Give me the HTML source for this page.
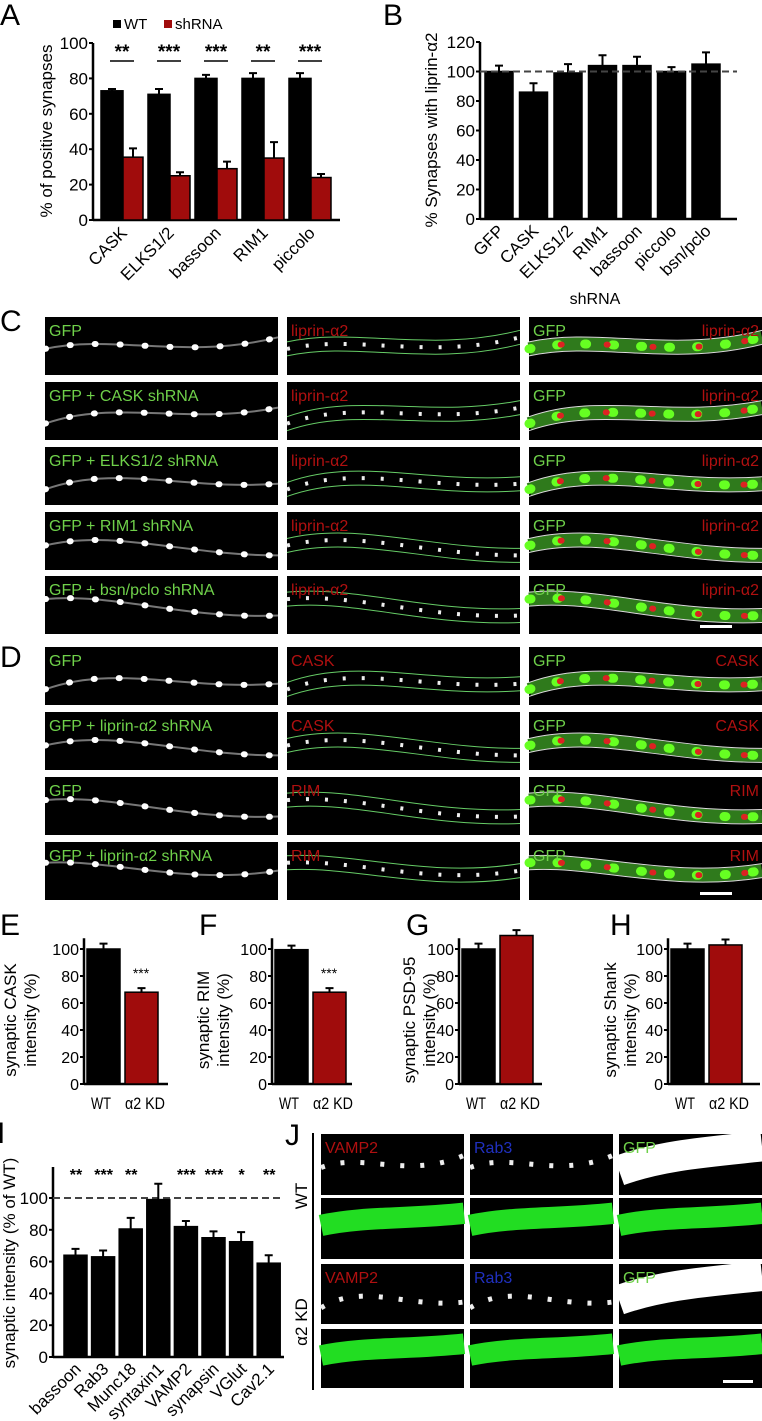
<!DOCTYPE html>
<html><head><meta charset="utf-8"><style>
html,body{margin:0;padding:0;background:#fff;}
svg{display:block;font-family:"Liberation Sans",Arial,sans-serif;}
</style></head><body>
<svg id="fig" width="762" height="1421" viewBox="0 0 762 1421" xmlns="http://www.w3.org/2000/svg">
<g font-size="30" fill="#000">
<text x="0" y="25">A</text>
<text x="383" y="25">B</text>
<text x="0" y="331">C</text>
<text x="0" y="667">D</text>
<text x="0" y="935">E</text>
<text x="199" y="935">F</text>
<text x="406" y="935">G</text>
<text x="610" y="935">H</text>
<text x="-3" y="1143">I</text>
<text x="285" y="1145">J</text>
</g>
<text x="595" y="304" font-size="16" text-anchor="middle">shRNA</text>
<g id="charts"></g>
<g id="images"></g>
</svg>
<script>
// Panel A data
const aCats = ["CASK","ELKS1/2","bassoon","RIM1","piccolo"];
const aWT = [73,71,80,80,80];
const aWTerr = [1,3,2,3,3];
const aSh = [35.5,25,29,35,24];
const aSherr = [5,2,4,9,2];
const aSig = ["**","***","***","**","***"];
const aTicks = [0,20,40,60,80,100];
// Panel B data
const bCats = ["GFP","CASK","ELKS1/2","RIM1","bassoon","piccolo","bsn/pclo"];
const bVals = [100,86,99,104,104,100,105];
const bErr = [4,6,6,7,6,3,8];
const bTicks = [0,20,40,60,80,100,120];
// Panels E-H data
const ehCats = ["WT","α2 KD"];
const eVals = [100,68]; const eErr = [4,3];
const fVals = [99.5,68]; const fErr = [3,3];
const gVals = [100,110]; const gErr = [4,4];
const hVals = [100,103]; const hErr = [4,4];
const ehTicks = [0,20,40,60,80,100];
// Panel I data
const iCats = ["bassoon","Rab3","Munc18","syntaxin1","VAMP2","synapsin","VGlut","Cav2.1"];
const iVals = [64,63,80.5,99,82,75,72.5,59];
const iErr = [4,4,7,10,3.5,4,6,5];
const iSig = ["**","***","**","","***","***","*","**"];
const iTicks = [0,20,40,60,80,100];

const NS="http://www.w3.org/2000/svg";
const charts=document.getElementById('charts');
function el(tag,attrs,parent){const e=document.createElementNS(NS,tag);for(const k in attrs)e.setAttribute(k,attrs[k]);(parent||charts).appendChild(e);return e;}
function txt(s,attrs,parent){const t=el('text',attrs,parent);t.textContent=s;return t;}

function axis(x0,x1,y,top,ticks,name,fs){
  const g=el('g',{});
  
  
  const ya=el('line',{x1:x0,y1:y(0),x2:x0,y2:top,stroke:'#000','stroke-width':2.5},g);
  
  
  const xa=el('line',{x1:x0,y1:y(0),x2:x1,y2:y(0),stroke:'#000','stroke-width':2.5},g);
  
  
  ticks.forEach(t=>{
    const tl=el('line',{x1:x0-4,y1:y(t),x2:x0,y2:y(t),stroke:'#000','stroke-width':2},g);
    
    
    const lb=txt(String(t),{x:x0-5,y:y(t)+6,'font-size':fs||17,'text-anchor':'end'},g);
    
    
  });
}
function bar(x,w,v,err,y,fill,name){
  const r=el('rect',{x:x,y:y(v),width:w,height:y(0)-y(v),fill:fill,stroke:'#000','stroke-width':1.5});
  
  
  const c=x+w/2;
  const eb=el('path',{d:`M${c} ${y(v)} V${y(v+err)} M${c-4} ${y(v+err)} H${c+4}`,stroke:'#000','stroke-width':2,fill:'none'});
  
  
}
function rotLabel(s,x,y,name,fs){
  const t=txt(s,{x:x,y:y,'font-size':fs||17,'text-anchor':'end',transform:`rotate(-45 ${x} ${y})`});
  
  
}
function yTitle(lines,x,cy,name,fs){
  lines.forEach((s,i)=>{
    const t=txt(s,{x:x+i*(fs+3),y:cy,'font-size':fs,'text-anchor':'middle',transform:`rotate(-90 ${x+i*(fs+3)} ${cy})`});
    
    
  });
}

// ---- Panel A
const yA=v=>220-v*1.77;
axis(93,340,yA,43,aTicks,'chart-a');
aCats.forEach((c,i)=>{
  const x=101+i*47;
  bar(x,22,aWT[i],aWTerr[i],yA,'#000','bar-a-wt-'+i);
  bar(x+22,20,aSh[i],aSherr[i],yA,'#a00c0c','bar-a-shrna-'+i);
  const cx=x+21;
  const s=txt(aSig[i],{x:cx,y:58,'font-size':19,'font-weight':'bold','text-anchor':'middle'});
  
  
  const l=el('line',{x1:cx-12,y1:61,x2:cx+12,y2:61,stroke:'#000','stroke-width':1.5});
  
  
  rotLabel(c,cx+6,234,'x-label-a');
});
yTitle(['% of positive synapses'],52,131,'y-axis-title-a',17);
{
  const g=el('g',{});
  
  
  const r1=el('rect',{x:113,y:20,width:8,height:8,fill:'#000'},g);
  
  
  const t1=txt('WT',{x:124,y:29,'font-size':15},g);
  
  
  const r2=el('rect',{x:164,y:20,width:8,height:8,fill:'#a00c0c'},g);
  
  
  const t2=txt('shRNA',{x:175,y:29,'font-size':15},g);
  
  
}

// ---- Panel B
const yB=v=>219-v*1.475;
axis(480,737,yB,42,bTicks,'chart-b');
bCats.forEach((c,i)=>{
  const x=485+i*34.5;
  bar(x,28,bVals[i],bErr[i],yB,'#000','bar-b-'+i);
  rotLabel(c,x+20,232,'x-label-b');
});
{const d=el('line',{x1:480,y1:yB(100),x2:737,y2:yB(100),stroke:'#444','stroke-width':2,'stroke-dasharray':'7,4'});

}
yTitle(['% Synapses with liprin-α2'],437,130,'y-axis-title-b',17);

// ---- Panels E-H
const yEH=v=>1084-v*1.35;
const ehPanels=[
 {ax:84,end:168,vals:eVals,err:eErr,t:['synaptic CASK','intensity (%)'],tx:16,sig:true,n:'e'},
 {ax:272,end:352,vals:fVals,err:fErr,t:['synaptic RIM','intensity (%)'],tx:209,sig:true,n:'f'},
 {ax:459,end:542,vals:gVals,err:gErr,t:['synaptic PSD-95','intensity (%)'],tx:415,sig:false,n:'g'},
 {ax:668,end:760,vals:hVals,err:hErr,t:['synaptic Shank','intensity (%)'],tx:616,sig:false,n:'h'}
];
const ehLabW=[20,40];
ehPanels.forEach(p=>{
  axis(p.ax,p.end,yEH,yEH(108),ehTicks,'chart-'+p.n,16);
  ehCats.forEach((c,i)=>{
    const x=p.ax+3+i*38;
    bar(x,33,p.vals[i],p.err[i],yEH,i?'#a00c0c':'#000','bar-'+p.n+'-'+i);
    const cx=x+16+(i?4:-2);
    const t=txt(c,{x:cx-ehLabW[i]/2,y:1109,'font-size':17,textLength:ehLabW[i],lengthAdjust:'spacingAndGlyphs'});
    
    
  });
  if(p.sig){const s=txt('***',{x:p.ax+3+38+16,y:978,'font-size':14,'text-anchor':'middle'});
  
  }
  yTitle(p.t,p.tx,1020,'y-axis-title-'+p.n,17);
});

// ---- Panel I
const yI=v=>1357-v*1.59;
axis(53,284,yI,1167,iTicks,'chart-i');
{const d=el('line',{x1:53,y1:yI(100),x2:284,y2:yI(100),stroke:'#444','stroke-width':2,'stroke-dasharray':'7,4'});

}
iCats.forEach((c,i)=>{
  const x=64+i*27.6;
  bar(x,23,iVals[i],iErr[i],yI,'#000','bar-i-'+i);
  const s=txt(iSig[i],{x:x+12,y:1180,'font-size':16,'font-weight':'bold','text-anchor':'middle'});
  
  
  rotLabel(c,x+18,1370,'x-label-i');
});
yTitle(['synaptic intensity (% of WT)'],15,1263,'y-axis-title-i',17);

// ---- Image panels
const imgs=document.getElementById('images');
function panel(x,y,w,h,name,kind,labL,colL,labR,colR,seed){
  const g=el('g',{},imgs);
  
  
  el('rect',{x:x,y:y,width:w,height:h,fill:'#000'},g);
  const cy=y+h*0.55, amp=h*0.2;
  const d=`M${x} ${cy+amp*Math.sin(seed)} C${x+w*0.3} ${cy-amp*1.3} ${x+w*0.6} ${cy+amp} ${x+w} ${cy-amp*Math.cos(seed)}`;
  if(kind==='gray'){
    el('path',{d:d,stroke:'#777','stroke-width':2,fill:'none'},g);
    el('path',{d:d,stroke:'#fff','stroke-width':6,fill:'none','stroke-linecap':'round','stroke-dasharray':'1,24'},g);
  }else if(kind==='outline'){
    el('path',{d:d,stroke:'#6c6','stroke-width':1,fill:'none',transform:'translate(0,-7)'},g);
    el('path',{d:d,stroke:'#6c6','stroke-width':1,fill:'none',transform:'translate(0,7)'},g);
    el('path',{d:d,stroke:'#eee','stroke-width':4,fill:'none','stroke-dasharray':'3,16'},g);
  }else if(kind==='merge'){
    el('path',{d:d,stroke:'#2f7a1c','stroke-width':13,fill:'none'},g);
    el('path',{d:d,stroke:'#ddd','stroke-width':1,fill:'none',transform:'translate(0,-7)'},g);
    el('path',{d:d,stroke:'#ddd','stroke-width':1,fill:'none',transform:'translate(0,7)'},g);
    el('path',{d:d,stroke:'#6f2','stroke-width':9,fill:'none','stroke-linecap':'round','stroke-dasharray':'2,26'},g);
    el('path',{d:d,stroke:'#d22','stroke-width':6,fill:'none','stroke-linecap':'round','stroke-dasharray':'1,45','stroke-dashoffset':'14'},g);
  }else if(kind==='green'){
    el('path',{d:`M${x} ${y+h*0.45} C${x+w*0.3} ${y+h*0.3} ${x+w*0.6} ${y+h*0.35} ${x+w} ${y+h*0.25}`,stroke:'#2d2','stroke-width':h*0.35,fill:'none'},g);
  }else if(kind==='white'){
    el('path',{d:`M${x} ${y+h*0.6} C${x+w*0.3} ${y+h*0.35} ${x+w*0.6} ${y+h*0.3} ${x+w} ${y+h*0.2}`,stroke:'#fff','stroke-width':h*0.5,fill:'none'},g);
  }else if(kind==='dots'){
    el('path',{d:d,stroke:'#eee','stroke-width':5,fill:'none','stroke-dasharray':'4,16'},g);
  }
  if(labL){const t=txt(labL,{x:x+4,y:y+19,'font-size':16,fill:colL},g);
    
    }
  if(labR){const t=txt(labR,{x:x+w-3,y:y+19,'font-size':16,fill:colR,'text-anchor':'end'},g);
    
    }
}
const G='#6fd14a', R='#b01010', B='#2030c0';
const cols=[45,287,529], cw=233, ch=58;
const cRows=[317,382,447,512,576];
const cLeft=["GFP","GFP + CASK shRNA","GFP + ELKS1/2 shRNA","GFP + RIM1 shRNA","GFP + bsn/pclo shRNA"];
cRows.forEach((y,i)=>{
  panel(cols[0],y,cw,ch,'image-c-gfp-'+i,'gray',cLeft[i],G,null,null,i);
  panel(cols[1],y,cw,ch,'image-c-liprin-'+i,'outline','liprin-α2',R,null,null,i);
  panel(cols[2],y,cw,ch,'image-c-merge-'+i,'merge','GFP',G,'liprin-α2',R,i);
});
const dRows=[647,712,777,842];
const dLeft=["GFP","GFP + liprin-α2 shRNA","GFP","GFP + liprin-α2 shRNA"];
const dMid=["CASK","CASK","RIM","RIM"];
dRows.forEach((y,i)=>{
  panel(cols[0],y,cw,ch,'image-d-gfp-'+i,'gray',dLeft[i],G,null,null,i+2);
  panel(cols[1],y,cw,ch,'image-d-stain-'+i,'outline',dMid[i],R,null,null,i+2);
  panel(cols[2],y,cw,ch,'image-d-merge-'+i,'merge','GFP',G,dMid[i],R,i+2);
});
[[700,625],[700,892]].forEach(p=>{const s=el('rect',{x:p[0],y:p[1],width:32,height:3,fill:'#fff'},imgs);

});
// Panel J
const jCols=[321,470,619], jw=143;
const jRows=[[1134,61],[1198,61],[1264,60],[1329,59]];
const jLab=[["VAMP2",R],["Rab3",B],["GFP",G]];
jRows.forEach((r,ri)=>{
  jCols.forEach((x,ci)=>{
    let kind;
    if(ri%2===1) kind='green';
    else kind = ci===2?'white':'dots';
    panel(x,r[0],jw,r[1],'image-j-'+ri+'-'+ci,kind,ri%2===0?jLab[ci][0]:null,jLab[ci][1],null,null,ri);
  });
});
{const v=el('line',{x1:313,y1:1133,x2:313,y2:1390,stroke:'#000','stroke-width':2},imgs);


const s=el('rect',{x:723,y:1380,width:30,height:3,fill:'#fff'},imgs);


const t1=txt('WT',{x:307,y:1196,'font-size':17,'text-anchor':'middle',transform:'rotate(-90 307 1196)'},imgs);


const t2=txt('α2 KD',{x:307,y:1322,'font-size':17,'text-anchor':'middle',transform:'rotate(-90 307 1322)'},imgs);

}
</script>
</body></html>
